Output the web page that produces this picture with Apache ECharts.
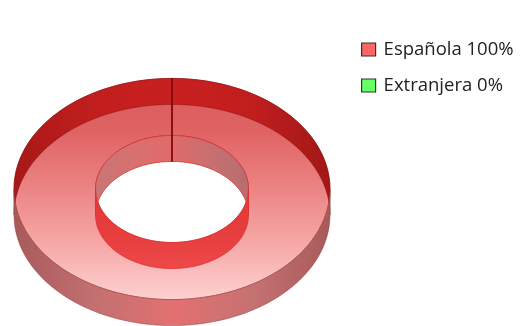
<!DOCTYPE html>
<html>
<head>
<meta charset="utf-8">
<script src="https://cdn.jsdelivr.net/npm/echarts@6/dist/echarts.min.js"></script>
<style>
  html, body { margin: 0; padding: 0; background: #fff; }
  #chart { width: 529px; height: 326px; }
</style>
</head>
<body>
<div id="chart"></div>
<script>
// Nationality split
const categories = ['Española', 'Extranjera'];
const values = [100, 0];
const legendColors = ['#ff6666', '#66ff66'];

const total = values.reduce((a, b) => a + b, 0);

// Ring geometry (pixels)
const CX = 172, CY_TOP = 189, DEPTH = 26;
const RX = 158, TILT = 0.7, INNER = 0.484;
const TAU = Math.PI * 2;

// points along an elliptical arc, angle measured clockwise from 12 o'clock
function arc(cy, r, a0, a1) {
  const pts = [];
  const n = Math.max(2, Math.ceil(Math.abs(a1 - a0) / TAU * 180));
  for (let i = 0; i <= n; i++) {
    const a = a0 + (a1 - a0) * i / n;
    pts.push([CX + r * Math.sin(a), cy - r * TILT * Math.cos(a)]);
  }
  return pts;
}
function clip(a0, a1, lo, hi) {
  const s = Math.max(a0, lo), e = Math.min(a1, hi);
  return e > s ? [s, e] : null;
}
function band(r, b0, b1) {
  return arc(CY_TOP, r, b0, b1).concat(arc(CY_TOP + DEPTH, r, b1, b0));
}
function hGrad(x0, x1, stops) {
  return { type: 'linear', x: x0, y: 0, x2: x1, y2: 0, global: true,
    colorStops: stops.map((c, i) => ({ offset: i / (stops.length - 1), color: c })) };
}
function vGrad(y0, y1, stops) {
  return { type: 'linear', x: 0, y: y0, x2: 0, y2: y1, global: true,
    colorStops: stops.map((c, i) => ({ offset: i / (stops.length - 1), color: c })) };
}

function sliceRenderer(idx) {
  return function (params, api) {
    const before = values.slice(0, idx).reduce((a, b) => a + b, 0);
    const a0 = before / total * TAU;
    const a1 = (before + values[idx]) / total * TAU;
    const children = [];
    if (a1 - a0 <= 0) return { type: 'group', children };
    const RI = RX * INNER;
    const ryO = RX * TILT, ryI = RI * TILT;

    // top face of the ring
    children.push({
      type: 'polygon',
      shape: { points: arc(CY_TOP, RX, a0, a1).concat(arc(CY_TOP, RI, a1, a0)) },
      style: {
        fill: vGrad(CY_TOP - ryO, CY_TOP + ryO,
          ['#d95858', '#e06464', '#ec8484', '#f7a8a8', '#fdd0d0']),
        stroke: 'rgba(150,20,20,0.7)', lineWidth: 0.8
      }
    });

    const backRanges = [clip(a0, a1, 0, Math.PI / 2), clip(a0, a1, Math.PI * 1.5, TAU)].filter(Boolean);
    const frontRanges = [clip(a0, a1, Math.PI / 2, Math.PI * 1.5)].filter(Boolean);

    // outer wall, far side
    backRanges.forEach(([s, e]) => children.push({
      type: 'polygon', shape: { points: band(RX, s, e) },
      style: { fill: hGrad(CX - RX, CX + RX, ['#a81818', '#c21e1e', '#c82020', '#c21e1e', '#a31717']),
        stroke: 'rgba(130,15,15,0.8)', lineWidth: 0.6 }
    }));
    // outer wall, near side
    frontRanges.forEach(([s, e]) => children.push({
      type: 'polygon', shape: { points: band(RX, s, e) },
      style: { fill: hGrad(CX - RX, CX + RX, ['#a85a5a', '#c27070', '#e37070', '#c67272', '#a85a5a']),
        stroke: 'rgba(150,60,60,0.8)', lineWidth: 0.6 }
    }));
    // inner wall, far side (seen through the hole)
    backRanges.forEach(([s, e]) => children.push({
      type: 'polygon', shape: { points: band(RI, s, e) },
      style: { fill: hGrad(CX - RI, CX + RI, ['#c87676', '#d87070', '#e06a6a', '#c87070', '#b56e6e']),
        stroke: '#dc2c2c', lineWidth: 0.8 }
    }));
    // inner wall, near side
    frontRanges.forEach(([s, e]) => children.push({
      type: 'polygon', shape: { points: band(RI, s, e) },
      style: { fill: vGrad(CY_TOP, CY_TOP + DEPTH + ryI, ['#e23a3a', '#e53c3c', '#ee4848']),
        stroke: '#e03030', lineWidth: 0.8 }
    }));
    // cut faces at the slice edges
    [a0, a1 % TAU].forEach(a => {
      const pts = [
        arc(CY_TOP, RX, a, a)[0], arc(CY_TOP, RI, a, a)[0],
        arc(CY_TOP + DEPTH, RI, a, a)[0], arc(CY_TOP + DEPTH, RX, a, a)[0]
      ];
      children.push({
        type: 'polygon', shape: { points: pts },
        style: { fill: '#b01a1a', stroke: '#8a0c0c', lineWidth: 1 }
      });
    });
    return { type: 'group', children };
  };
}

const series = categories.map((name, i) => ({
  type: 'custom',
  name,
  coordinateSystem: 'none',
  renderItem: sliceRenderer(i),
  data: [[values[i]]],
  itemStyle: { color: legendColors[i] },
  silent: true
}));

const chart = echarts.init(document.getElementById('chart'), null, { renderer: 'canvas' });
chart.setOption({
  animation: false,
  backgroundColor: '#ffffff',
  legend: {
    orient: 'vertical',
    left: 361,
    top: 40,
    padding: 0,
    itemWidth: 14,
    itemHeight: 13,
    itemGap: 17,
    icon: 'rect',
    itemStyle: { borderColor: '#333', borderWidth: 1.2 },
    textStyle: { fontFamily: 'Open Sans', fontSize: 18.5, color: '#222', padding: [0, 0, 0, 3] },
    formatter: name => {
      const i = categories.indexOf(name);
      return name + ' ' + Math.round(values[i] / total * 100) + '%';
    },
    data: categories
  },
  series
});
</script>
</body>
</html>
